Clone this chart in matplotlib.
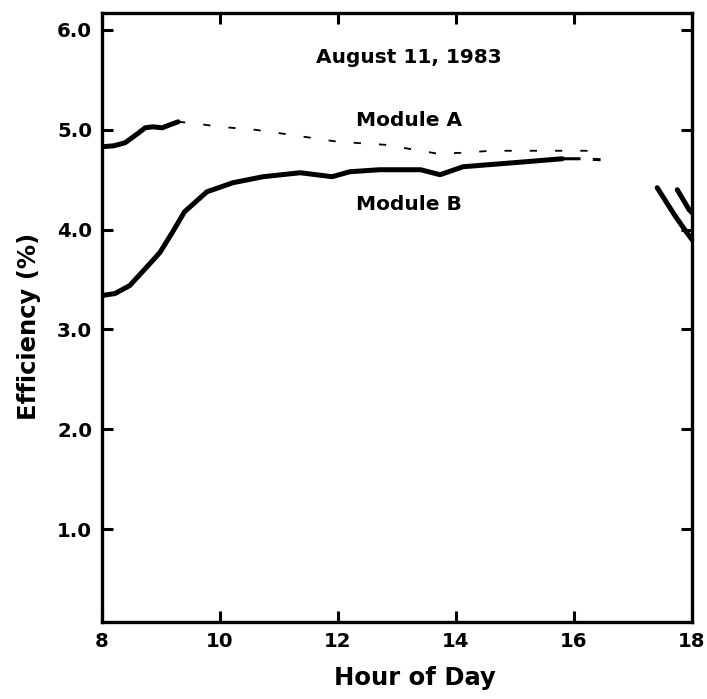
import numpy as np
import matplotlib
matplotlib.use("Agg")
import matplotlib.pyplot as plt

plt.rcParams['font.family'] = ['DejaVu Sans']
plt.rcParams['font.weight'] = 'bold'

# Measured efficiency traces (hour of day, %)
hours_a = [8.0, 8.2, 8.39, 8.6, 8.73, 8.86, 9.02, 9.15, 9.29,
           9.5, 10.0, 10.6, 11.2, 12.0, 12.8, 13.3, 13.7, 14.1, 14.6, 15.5, 16.2, 16.45,
           np.nan, 17.75, 17.85, 17.95, 18.0]
eff_a = [4.83, 4.84, 4.87, 4.96, 5.02, 5.03, 5.02, 5.05, 5.08,
         5.07, 5.03, 5.00, 4.95, 4.88, 4.85, 4.80, 4.76, 4.77, 4.79, 4.79, 4.79, 4.78,
         np.nan, 4.40, 4.30, 4.20, 4.17]

hours_b = [8.0, 8.22, 8.47, 8.75, 8.98, 9.19, 9.4, 9.78, 10.22, 10.73, 11.36, 11.9,
           12.2, 12.7, 13.4, 13.73, 14.12, 14.97, 15.8, 16.1, 16.45,
           np.nan, 17.41, 17.7, 17.9, 18.0]
eff_b = [3.34, 3.36, 3.44, 3.62, 3.77, 3.97, 4.18, 4.38, 4.47, 4.53, 4.57, 4.53,
         4.58, 4.60, 4.60, 4.55, 4.63, 4.67, 4.71, 4.71, 4.70,
         np.nan, 4.42, 4.15, 3.98, 3.90]

x_ticks = [8, 10, 12, 14, 16, 18]
y_ticks = [1.0, 2.0, 3.0, 4.0, 5.0, 6.0]
y_labels = ["1.0", "2.0", "3.0", "4.0", "5.0", "6.0"]

fig = plt.figure(figsize=(7.07, 6.99), dpi=100)
ax = fig.add_axes([0.1443, 0.1102, 0.8345, 0.8712])

ha = np.array(hours_a, dtype=float)
ea = np.array(eff_a, dtype=float)
hb = np.array(hours_b, dtype=float)
eb = np.array(eff_b, dtype=float)

# Module A: solid in the morning and at dusk, a faint broken trace in between
solid_a = (ha <= 9.3) | (ha >= 17.0) | np.isnan(ha)
ax.plot(np.where(solid_a, ha, np.nan), np.where(solid_a, ea, np.nan),
        color='black', lw=3.6, solid_capstyle='round', solid_joinstyle='round')
faint_a = (ha >= 9.29) & (ha <= 16.5)
ax.plot(ha[faint_a], ea[faint_a], color='black', lw=1.3,
        dashes=(4, 10), dash_capstyle='butt')

# Module B: solid through the day, broken near 16 h
solid_b = (hb <= 15.8) | (hb >= 17.0) | np.isnan(hb)
ax.plot(np.where(solid_b, hb, np.nan), np.where(solid_b, eb, np.nan),
        color='black', lw=3.6, solid_capstyle='round', solid_joinstyle='round')
tail_b = (hb >= 15.8) & (hb <= 16.5)
ax.plot(hb[tail_b], eb[tail_b], color='black', lw=2.2, dashes=(6, 4))

ax.set_xlim(8, 18)
ax.set_ylim(0.07, 6.17)
ax.set_xticks(x_ticks)
ax.set_xticklabels([str(t) for t in x_ticks])
ax.set_yticks(y_ticks)
ax.set_yticklabels(y_labels)

ax.tick_params(direction='in', length=8, width=2.2, labelsize=14.2,
               top=True, right=True, pad=7)
for lab in ax.get_xticklabels() + ax.get_yticklabels():
    lab.set_fontweight('bold')
for s in ax.spines.values():
    s.set_linewidth(2.4)

ax.set_xlabel("Hour of Day", fontsize=17.5, fontweight='bold')
ax.set_ylabel("Efficiency (%)", fontsize=17.5, fontweight='bold')
ax.xaxis.set_label_coords(0.53, -0.072)
ax.yaxis.set_label_coords(-0.104, 0.486)

ax.text(13.2, 5.72, "August 11, 1983", ha='center', va='center',
        fontsize=14.5, fontweight='bold')
ax.text(13.2, 5.09, "Module A", ha='center', va='center',
        fontsize=14.5, fontweight='bold')
ax.text(13.2, 4.25, "Module B", ha='center', va='center',
        fontsize=14.5, fontweight='bold')

fig.savefig("out.png", dpi=100)
